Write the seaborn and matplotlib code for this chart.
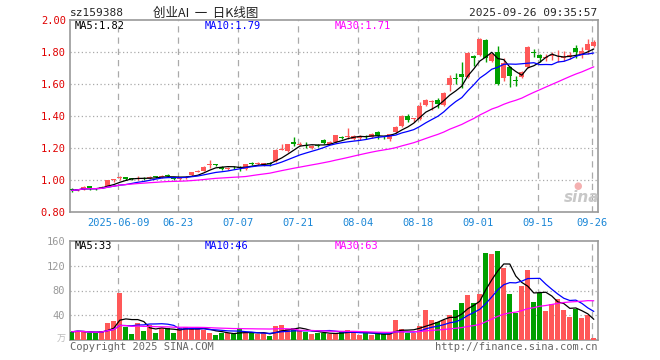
import numpy as np
import pandas as pd
import seaborn as sns
import matplotlib.pyplot as plt

# daily candles, 2025-05-27 .. 2025-09-26 (position 0 = 2025-06-09)
opens = [0.945, 0.938, 0.942, 0.960, 0.950, 0.952, 0.965, 0.997,
         1.012, 1.017, 1.008, 1.005, 1.014, 1.010, 1.020, 1.019, 1.030, 1.015,
         1.006, 1.010, 1.030, 1.053, 1.058, 1.092, 1.097, 1.083, 1.070, 1.083,
         1.080, 1.070, 1.107, 1.100, 1.095, 1.108, 1.120, 1.190, 1.180, 1.235,
         1.218, 1.220, 1.200, 1.218, 1.250, 1.228, 1.236, 1.270, 1.270, 1.255,
         1.262, 1.275, 1.270, 1.300, 1.270, 1.255, 1.298, 1.335, 1.400, 1.380,
         1.380, 1.470, 1.490, 1.500, 1.470, 1.595, 1.640, 1.665, 1.645, 1.778,
         1.780, 1.875, 1.745, 1.800, 1.640, 1.705, 1.625, 1.646, 1.705, 1.800,
         1.780, 1.765, 1.775, 1.760, 1.765, 1.770, 1.825, 1.780, 1.810, 1.835]
highs = [0.950, 0.945, 0.960, 0.965, 0.952, 0.962, 1.003, 1.008,
         1.025, 1.020, 1.012, 1.025, 1.018, 1.025, 1.022, 1.032, 1.037, 1.020,
         1.016, 1.024, 1.052, 1.065, 1.090, 1.125, 1.100, 1.088, 1.082, 1.090,
         1.085, 1.100, 1.115, 1.110, 1.108, 1.112, 1.195, 1.225, 1.226, 1.270,
         1.235, 1.235, 1.220, 1.222, 1.255, 1.245, 1.282, 1.275, 1.322, 1.280,
         1.280, 1.280, 1.295, 1.305, 1.275, 1.290, 1.336, 1.405, 1.410, 1.390,
         1.485, 1.505, 1.500, 1.510, 1.550, 1.655, 1.667, 1.740, 1.800, 1.780,
         1.885, 1.880, 1.795, 1.840, 1.760, 1.715, 1.650, 1.680, 1.835, 1.820,
         1.785, 1.785, 1.800, 1.810, 1.805, 1.800, 1.845, 1.830, 1.880, 1.875]
lows = [0.925, 0.930, 0.940, 0.940, 0.940, 0.948, 0.962, 0.990,
        1.000, 1.000, 0.998, 1.000, 1.003, 1.006, 1.010, 1.012, 1.018, 1.000,
        1.000, 1.005, 1.025, 1.050, 1.055, 1.075, 1.085, 1.065, 1.065, 1.070,
        1.055, 1.060, 1.095, 1.095, 1.090, 1.090, 1.115, 1.185, 1.175, 1.210,
        1.210, 1.200, 1.195, 1.205, 1.225, 1.222, 1.232, 1.258, 1.255, 1.250,
        1.250, 1.255, 1.265, 1.258, 1.255, 1.245, 1.295, 1.330, 1.360, 1.360,
        1.375, 1.460, 1.440, 1.450, 1.465, 1.555, 1.600, 1.575, 1.640, 1.710,
        1.775, 1.740, 1.740, 1.595, 1.620, 1.580, 1.585, 1.640, 1.700, 1.770,
        1.740, 1.745, 1.750, 1.740, 1.745, 1.755, 1.760, 1.765, 1.790, 1.830]
closes = [0.935, 0.942, 0.958, 0.948, 0.946, 0.958, 1.000, 1.005,
          1.018, 1.005, 1.005, 1.015, 1.010, 1.020, 1.017, 1.028, 1.026, 1.008,
          1.012, 1.020, 1.050, 1.058, 1.082, 1.098, 1.092, 1.070, 1.076, 1.079,
          1.075, 1.098, 1.103, 1.105, 1.104, 1.097, 1.190, 1.195, 1.222, 1.228,
          1.224, 1.214, 1.214, 1.214, 1.230, 1.240, 1.280, 1.265, 1.276, 1.274,
          1.268, 1.270, 1.290, 1.278, 1.266, 1.287, 1.333, 1.400, 1.372, 1.386,
          1.462, 1.500, 1.495, 1.478, 1.545, 1.635, 1.632, 1.645, 1.795, 1.765,
          1.880, 1.760, 1.790, 1.600, 1.730, 1.650, 1.620, 1.675, 1.830, 1.795,
          1.760, 1.770, 1.780, 1.765, 1.770, 1.780, 1.800, 1.805, 1.850, 1.860]
# volume in 万手
volumes = [13.3, 15, 13, 10.7, 10.7, 15, 27.7, 31,
           75.7, 21, 9.6, 27.7, 15, 25, 11.7, 18.7, 20, 11.7,
           18.7, 21, 17, 21, 16, 11.7, 8.5, 10.7, 11.7, 9,
           17, 11.7, 10.7, 9.6, 10.7, 7, 22.4, 24, 17, 18.7,
           16, 13, 9.6, 11.7, 10.7, 10, 10.7, 13.3, 16, 14.4,
           8, 10.7, 8, 10.7, 9, 9.6, 32, 17.6, 11.7, 11.7,
           22.4, 48, 33, 28.8, 33, 40, 48, 59.7, 72, 59.7,
           74, 141, 139.7, 144, 115.7, 73.6, 43.7, 88, 113.6, 61.3,
           76, 47, 57.6, 66, 48, 37.3, 50, 35.7, 40.5, 3.7]

tick_pos = [0, 10, 20, 30, 40, 50, 60, 70, 79]
tick_labels = ["2025-06-09", "06-23", "07-07", "07-21", "08-04",
               "08-18", "09-01", "09-15", "09-26"]
price_ticks = [0.80, 1.00, 1.20, 1.40, 1.60, 1.80, 2.00]
vol_ticks = [40, 80, 120, 160]

RED = "#ff5858"
GREEN = "#00a000"
GRID = "#aaaaaa"
MONO = "DejaVu Sans Mono"

df = pd.DataFrame({"open": opens, "high": highs, "low": lows,
                   "close": closes, "vol": volumes})
df["x"] = np.arange(len(df)) - 8
df["up"] = df["close"] >= df["open"]
for n in (5, 10, 30):
    df[f"ma{n}"] = df["close"].rolling(n, min_periods=1).mean()
    df[f"vma{n}"] = df["vol"].rolling(n, min_periods=1).mean()

sns.set_theme(style="white")
plt.rcParams["font.family"] = ["DejaVu Sans Mono", "Noto Sans CJK SC"]

fig = plt.figure(figsize=(6.6, 3.6), dpi=100)
ax = fig.add_axes([70 / 660, 1 - 212 / 360, 528 / 660, 192 / 360])
axv = fig.add_axes([70 / 660, 1 - 340 / 360, 528 / 660, 99 / 360])

colors = np.where(df["up"], RED, GREEN)

# candles
body_lo = df[["open", "close"]].min(axis=1)
body_h = (df["close"] - df["open"]).abs().clip(lower=0.005)
ax.vlines(df["x"], df["low"], df["high"], colors=colors, linewidth=1, zorder=3)
ax.bar(df["x"], body_h, bottom=body_lo, width=0.78, color=colors,
       linewidth=0, zorder=4)

for col, c in (("ma5", "black"), ("ma10", "#0000ff"), ("ma30", "#ff00ff")):
    sns.lineplot(data=df, x="x", y=col, ax=ax, color=c, linewidth=0.9, zorder=5)

# volume
axv.bar(df["x"], df["vol"], width=0.8, color=colors, linewidth=0, zorder=3)
for col, c in (("vma5", "black"), ("vma10", "#0000ff"), ("vma30", "#ff00ff")):
    sns.lineplot(data=df, x="x", y=col, ax=axv, color=c, linewidth=0.9, zorder=5)

for a in (ax, axv):
    a.set_xlim(-8.3, 79.7)
    a.set_xlabel("")
    a.set_ylabel("")
    a.set_facecolor("white")
    for s in a.spines.values():
        s.set_color("#999999")
        s.set_linewidth(1.2)
    for t in tick_pos:
        a.axvline(t - 0.25, color=GRID, linewidth=0.9, dashes=(5, 4), zorder=1)
    a.tick_params(length=0)

ax.set_ylim(0.8, 2.0)
ax.set_yticks(price_ticks)
ax.set_yticklabels([f"{v:.2f}" for v in price_ticks], color="#e00000",
                   fontsize=7.5, family=MONO)
for v in price_ticks[1:-1]:
    ax.axhline(v, color=GRID, linewidth=0.9, dashes=(1, 2), zorder=1)
ax.set_xticks([t - 0.25 for t in tick_pos])
ax.set_xticklabels(tick_labels, color="#1a86d6", fontsize=7.5, family=MONO)
ax.tick_params(axis="x", pad=4)
ax.tick_params(axis="y", pad=3)

axv.set_ylim(0, 160)
axv.set_yticks(vol_ticks)
axv.set_yticklabels([str(v) for v in vol_ticks], color="#999999",
                    fontsize=7.5, family=MONO)
for v in vol_ticks[:-1]:
    axv.axhline(v, color=GRID, linewidth=0.9, dashes=(1, 2), zorder=1)
axv.set_xticks([])

# texts
def ftxt(x, y, s, **kw):
    fig.text(x / 660, 1 - y / 360, s, **kw)

ftxt(70, 13, "sz159388", fontsize=8, va="center", ha="left", family=MONO)
ftxt(206, 13, "创业AI  一  日K线图", fontsize=9, va="center", ha="center",
     family=["Noto Sans CJK SC", "DejaVu Sans"], color="#222222")
ftxt(597, 13, "2025-09-26 09:35:57", fontsize=8, va="center", ha="right",
     family=MONO)

last = df.iloc[-1]
for xx, lab, col, c in ((75, "MA5", "ma5", "black"), (205, "MA10", "ma10", "#0000ff"),
                        (335, "MA30", "ma30", "#ff00ff")):
    ftxt(xx, 26, f"{lab}:{last[col]:.2f}", fontsize=7.5, va="center",
         ha="left", color=c, family=MONO)
    ftxt(xx, 246, f"{lab}:{last['v' + col]:.0f}", fontsize=7.5, va="center",
         ha="left", color=c, family=MONO)

ftxt(66, 339, "万", fontsize=6.5, va="center", ha="right", color="#bbbbbb",
     family=["Noto Sans CJK SC", "DejaVu Sans"])
ftxt(70, 347, "Copyright 2025 SINA.COM", fontsize=7.5, va="center",
     ha="left", color="#666666", family=MONO)
ftxt(597, 347, "http://finance.sina.com.cn", fontsize=7.5, va="center",
     ha="right", color="#666666", family=MONO)
ftxt(582, 197, "sina", fontsize=11, va="center", ha="center",
     color="#c8c8c8", fontweight="bold", style="italic",
     family="DejaVu Sans")
ftxt(578, 186, "●", fontsize=7, va="center", ha="center", color="#f4b0b0",
     family="DejaVu Sans")

fig.savefig("out.png", dpi=100)
